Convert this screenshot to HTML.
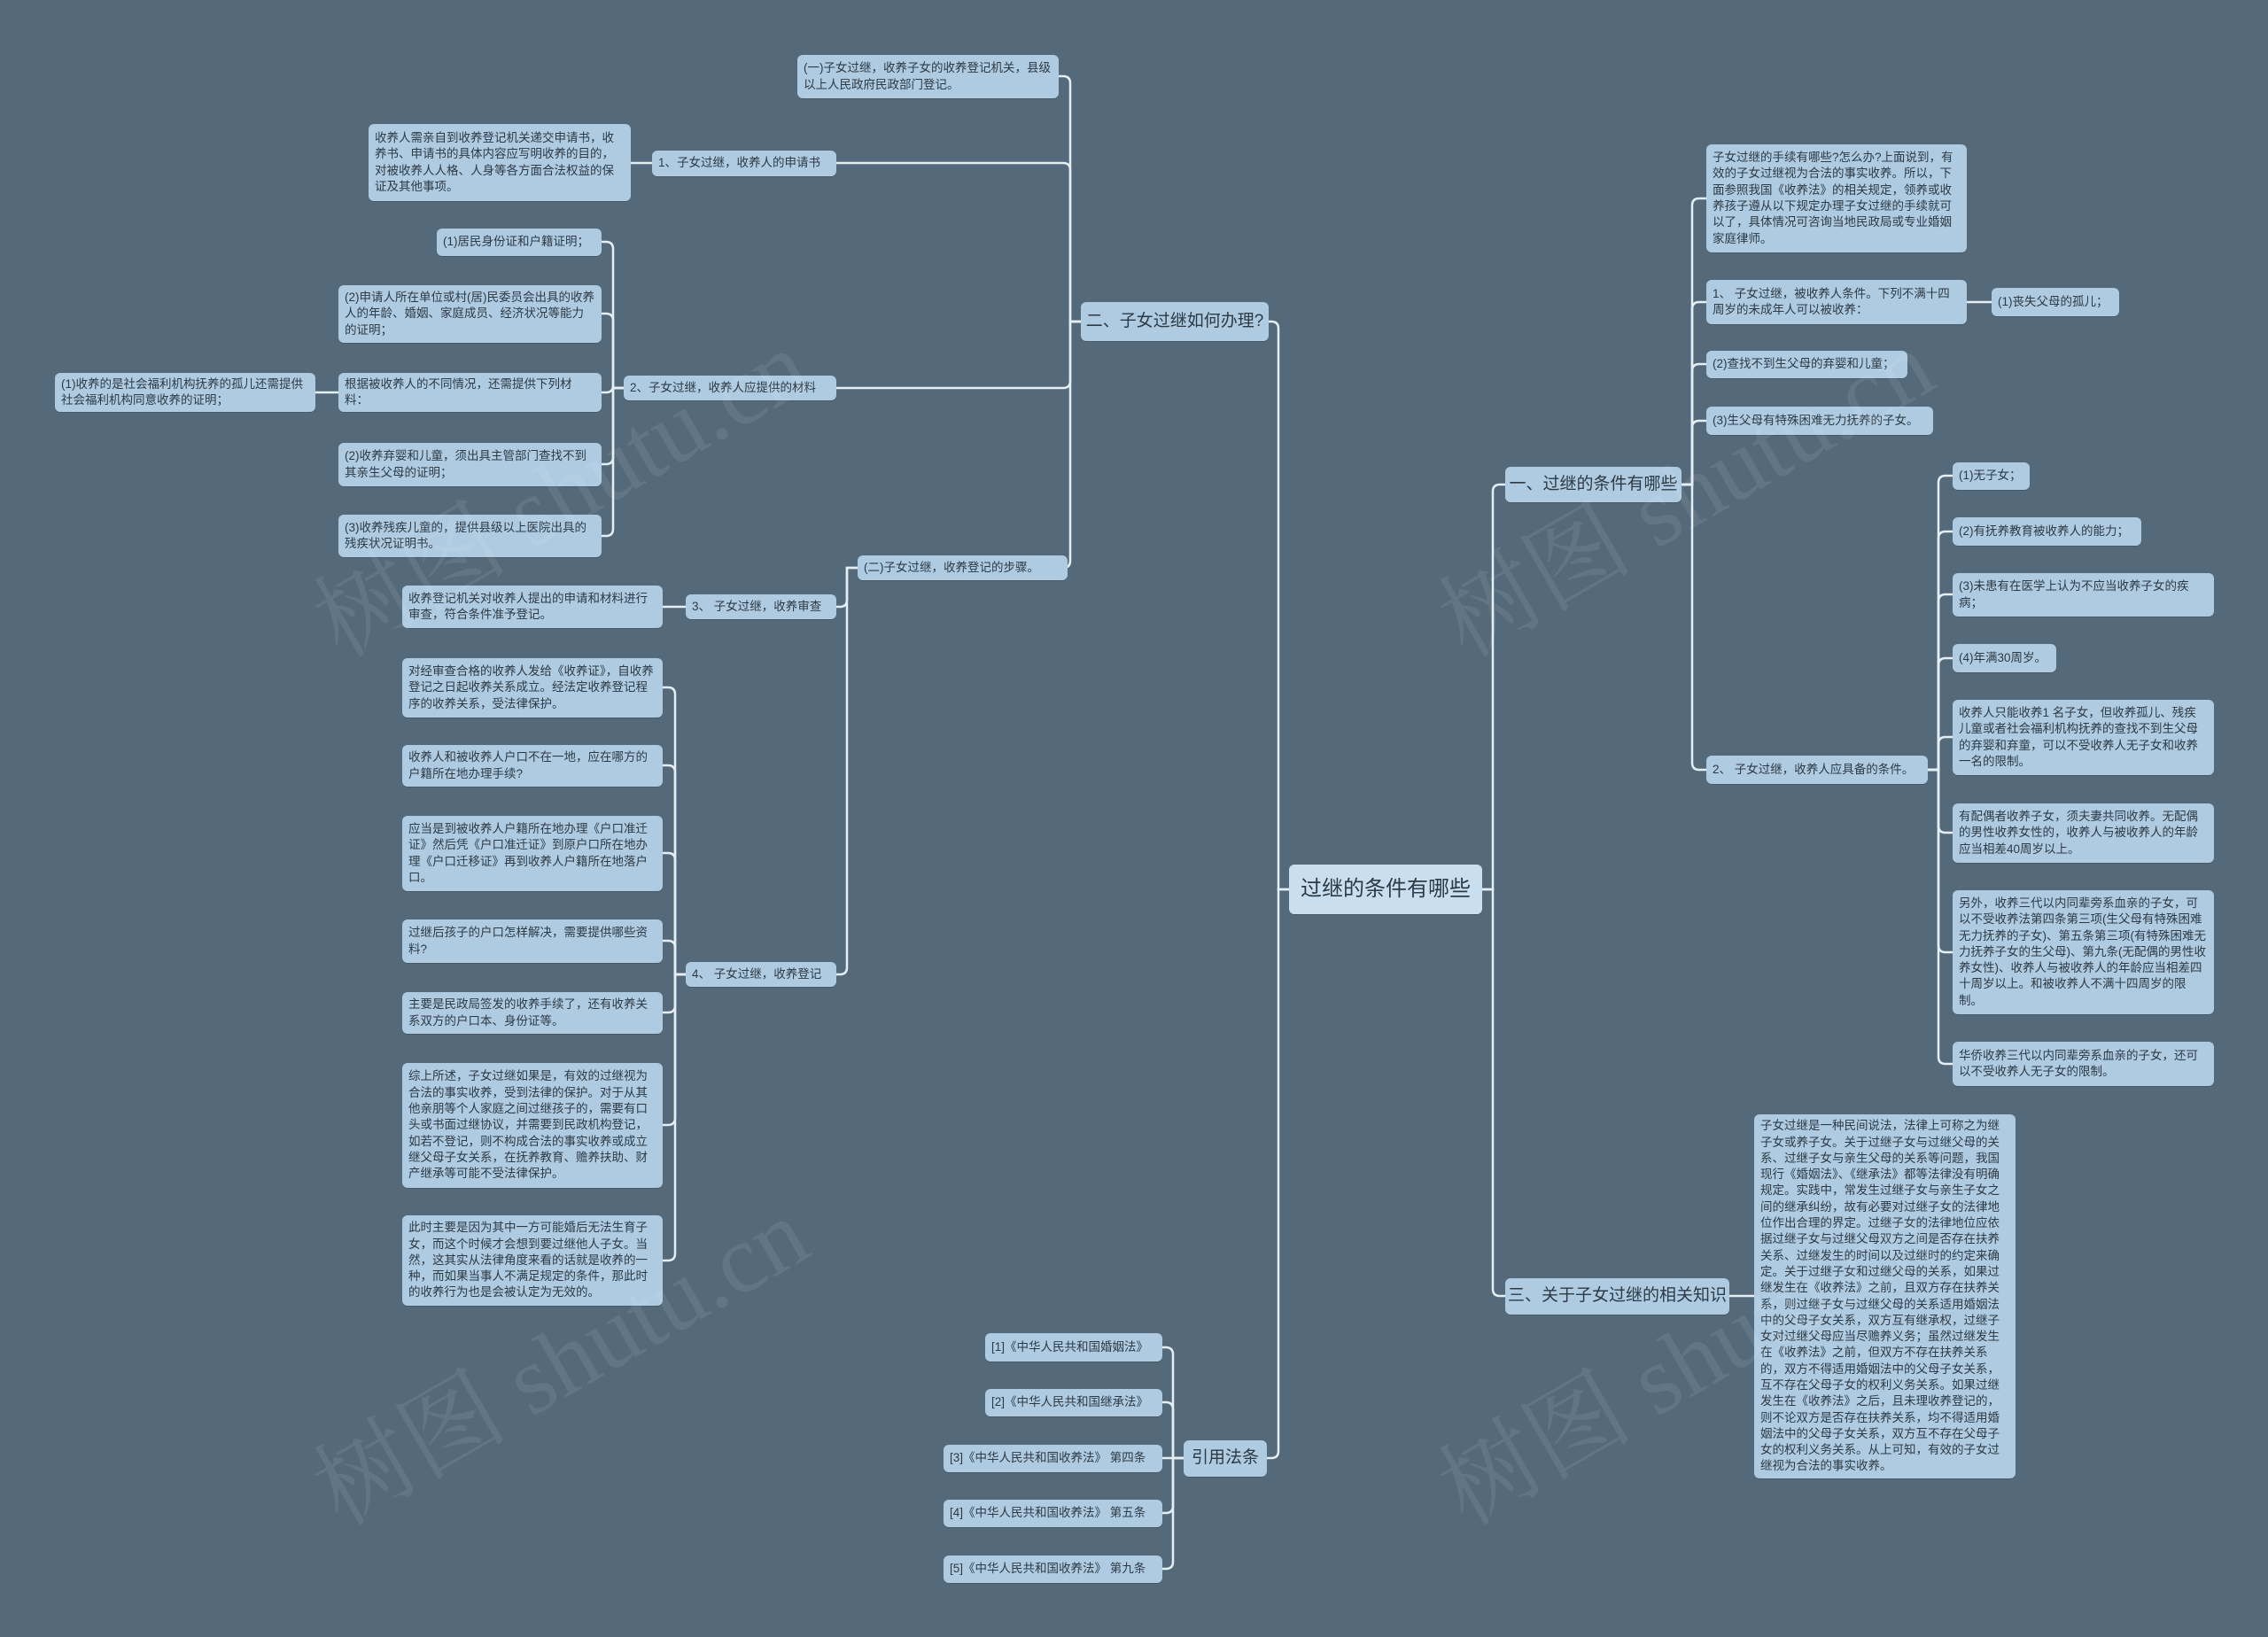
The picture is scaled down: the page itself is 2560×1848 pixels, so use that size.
<!DOCTYPE html>
<html><head><meta charset="utf-8">
<style>
html,body{margin:0;padding:0;}
body{width:2560px;height:1848px;background:#546a7a;position:relative;overflow:hidden;font-family:"Liberation Sans","Noto Sans CJK SC",sans-serif;}
.n{position:absolute;box-sizing:border-box;background:#aecbe2;border-radius:6px;color:#2d3a44;font-size:13.5px;line-height:18.3px;padding:4px 7px;display:flex;align-items:center;box-shadow:0 1px 0 rgba(0,0,0,0.15);word-break:break-all;}
.s{white-space:nowrap;overflow:hidden;}
.m{font-size:19px;justify-content:center;padding:0 4px;white-space:nowrap;}
.r{font-size:24px;justify-content:center;white-space:nowrap;background:#c9dff0;}
.wm{position:absolute;color:rgba(255,255,255,0.08);font-size:110px;font-family:"Liberation Serif","Noto Serif CJK SC",serif;transform:rotate(-30deg);white-space:nowrap;pointer-events:none;}
svg{position:absolute;left:0;top:0;}
</style></head><body>
<svg id="s" width="2560" height="1848"></svg>

<div class="n r" style="left:1455px;top:976px;width:218px;height:56px">过继的条件有哪些</div>

<div class="n m" style="left:1220px;top:341px;width:212px;height:44px">二、子女过继如何办理?</div>
<div class="n" style="left:900px;top:62px;width:295px;height:49px">(一)子女过继，收养子女的收养登记机关，县级以上人民政府民政部门登记。</div>
<div class="n s" style="left:736px;top:170px;width:208px;height:29px">1、子女过继，收养人的申请书</div>
<div class="n" style="left:416px;top:140px;width:296px;height:87px">收养人需亲自到收养登记机关递交申请书，收养书、申请书的具体内容应写明收养的目的，对被收养人人格、人身等各方面合法权益的保证及其他事项。</div>
<div class="n s" style="left:704px;top:424px;width:240px;height:28px">2、子女过继，收养人应提供的材料</div>
<div class="n s" style="left:493px;top:258px;width:186px;height:31px">(1)居民身份证和户籍证明；</div>
<div class="n" style="left:382px;top:322px;width:297px;height:65px">(2)申请人所在单位或村(居)民委员会出具的收养人的年龄、婚姻、家庭成员、经济状况等能力的证明；</div>
<div class="n" style="left:382px;top:421px;width:297px;height:44px">根据被收养人的不同情况，还需提供下列材料：</div>
<div class="n" style="left:62px;top:421px;width:294px;height:44px">(1)收养的是社会福利机构抚养的孤儿还需提供社会福利机构同意收养的证明；</div>
<div class="n" style="left:382px;top:500px;width:297px;height:49px">(2)收养弃婴和儿童，须出具主管部门查找不到其亲生父母的证明；</div>
<div class="n" style="left:382px;top:581px;width:297px;height:48px">(3)收养残疾儿童的，提供县级以上医院出具的残疾状况证明书。</div>
<div class="n s" style="left:968px;top:627px;width:237px;height:28px">(二)子女过继，收养登记的步骤。</div>
<div class="n s" style="left:774px;top:671px;width:170px;height:28px">3、 子女过继，收养审查</div>
<div class="n" style="left:454px;top:661px;width:294px;height:48px">收养登记机关对收养人提出的申请和材料进行审查，符合条件准予登记。</div>
<div class="n s" style="left:774px;top:1086px;width:170px;height:28px">4、 子女过继，收养登记</div>
<div class="n" style="left:454px;top:743px;width:294px;height:67px">对经审查合格的收养人发给《收养证》，自收养登记之日起收养关系成立。经法定收养登记程序的收养关系，受法律保护。</div>
<div class="n" style="left:454px;top:841px;width:294px;height:47px">收养人和被收养人户口不在一地，应在哪方的户籍所在地办理手续?</div>
<div class="n" style="left:454px;top:921px;width:294px;height:85px">应当是到被收养人户籍所在地办理《户口准迁证》然后凭《户口准迁证》到原户口所在地办理《户口迁移证》再到收养人户籍所在地落户口。</div>
<div class="n" style="left:454px;top:1038px;width:294px;height:49px">过继后孩子的户口怎样解决，需要提供哪些资料?</div>
<div class="n" style="left:454px;top:1120px;width:294px;height:47px">主要是民政局签发的收养手续了，还有收养关系双方的户口本、身份证等。</div>
<div class="n" style="left:454px;top:1200px;width:294px;height:141px">综上所述，子女过继如果是，有效的过继视为合法的事实收养，受到法律的保护。对于从其他亲朋等个人家庭之间过继孩子的，需要有口头或书面过继协议，并需要到民政机构登记，如若不登记，则不构成合法的事实收养或成立继父母子女关系，在抚养教育、赡养扶助、财产继承等可能不受法律保护。</div>
<div class="n" style="left:454px;top:1372px;width:294px;height:102px">此时主要是因为其中一方可能婚后无法生育子女，而这个时候才会想到要过继他人子女。当然，这其实从法律角度来看的话就是收养的一种，而如果当事人不满足规定的条件，那此时的收养行为也是会被认定为无效的。</div>

<div class="n m" style="left:1336px;top:1626px;width:94px;height:41px">引用法条</div>
<div class="n s" style="left:1112px;top:1505px;width:200px;height:32px">[1]《中华人民共和国婚姻法》</div>
<div class="n s" style="left:1112px;top:1568px;width:200px;height:31px">[2]《中华人民共和国继承法》</div>
<div class="n s" style="left:1065px;top:1631px;width:247px;height:31px">[3]《中华人民共和国收养法》 第四条</div>
<div class="n s" style="left:1065px;top:1693px;width:247px;height:31px">[4]《中华人民共和国收养法》 第五条</div>
<div class="n s" style="left:1065px;top:1756px;width:247px;height:31px">[5]《中华人民共和国收养法》 第九条</div>

<div class="n m" style="left:1699px;top:527px;width:199px;height:40px">一、过继的条件有哪些</div>
<div class="n" style="left:1926px;top:163px;width:294px;height:122px">子女过继的手续有哪些?怎么办?上面说到，有效的子女过继视为合法的事实收养。所以，下面参照我国《收养法》的相关规定，领养或收养孩子遵从以下规定办理子女过继的手续就可以了，具体情况可咨询当地民政局或专业婚姻家庭律师。</div>
<div class="n" style="left:1926px;top:316px;width:294px;height:50px">1、 子女过继，被收养人条件。下列不满十四周岁的未成年人可以被收养：</div>
<div class="n s" style="left:2248px;top:325px;width:144px;height:32px">(1)丧失父母的孤儿；</div>
<div class="n s" style="left:1926px;top:396px;width:227px;height:31px">(2)查找不到生父母的弃婴和儿童；</div>
<div class="n s" style="left:1926px;top:459px;width:256px;height:32px">(3)生父母有特殊困难无力抚养的子女。</div>
<div class="n s" style="left:1926px;top:853px;width:250px;height:32px">2、 子女过继，收养人应具备的条件。</div>
<div class="n s" style="left:2204px;top:522px;width:87px;height:31px">(1)无子女；</div>
<div class="n s" style="left:2204px;top:584px;width:213px;height:32px">(2)有抚养教育被收养人的能力；</div>
<div class="n" style="left:2204px;top:647px;width:295px;height:49px">(3)未患有在医学上认为不应当收养子女的疾病；</div>
<div class="n s" style="left:2204px;top:727px;width:117px;height:32px">(4)年满30周岁。</div>
<div class="n" style="left:2204px;top:790px;width:295px;height:85px">收养人只能收养1 名子女，但收养孤儿、残疾儿童或者社会福利机构抚养的查找不到生父母的弃婴和弃童，可以不受收养人无子女和收养一名的限制。</div>
<div class="n" style="left:2204px;top:907px;width:295px;height:67px">有配偶者收养子女，须夫妻共同收养。无配偶的男性收养女性的，收养人与被收养人的年龄应当相差40周岁以上。</div>
<div class="n" style="left:2204px;top:1005px;width:295px;height:140px">另外，收养三代以内同辈旁系血亲的子女，可以不受收养法第四条第三项(生父母有特殊困难无力抚养的子女)、第五条第三项(有特殊困难无力抚养子女的生父母)、第九条(无配偶的男性收养女性)、收养人与被收养人的年龄应当相差四十周岁以上。和被收养人不满十四周岁的限制。</div>
<div class="n" style="left:2204px;top:1176px;width:295px;height:50px">华侨收养三代以内同辈旁系血亲的子女，还可以不受收养人无子女的限制。</div>
<div class="n m" style="left:1699px;top:1443px;width:253px;height:41px">三、关于子女过继的相关知识</div>
<div class="n" style="left:1980px;top:1258px;width:295px;height:411px">子女过继是一种民间说法，法律上可称之为继子女或养子女。关于过继子女与过继父母的关系、过继子女与亲生父母的关系等问题，我国现行《婚姻法》、《继承法》都等法律没有明确规定。实践中，常发生过继子女与亲生子女之间的继承纠纷，故有必要对过继子女的法律地位作出合理的界定。过继子女的法律地位应依据过继子女与过继父母双方之间是否存在扶养关系、过继发生的时间以及过继时的约定来确定。关于过继子女和过继父母的关系，如果过继发生在《收养法》之前，且双方存在扶养关系，则过继子女与过继父母的关系适用婚姻法中的父母子女关系，双方互有继承权，过继子女对过继父母应当尽赡养义务；虽然过继发生在《收养法》之前，但双方不存在扶养关系的，双方不得适用婚姻法中的父母子女关系，互不存在父母子女的权利义务关系。如果过继发生在《收养法》之后，且未理收养登记的，则不论双方是否存在扶养关系，均不得适用婚姻法中的父母子女关系，双方互不存在父母子女的权利义务关系。从上可知，有效的子女过继视为合法的事实收养。</div>

<div class="wm" style="left:320px;top:470px">树图 shutu.cn</div>
<div class="wm" style="left:320px;top:1450px">树图 shutu.cn</div>
<div class="wm" style="left:1590px;top:470px">树图 shutu.cn</div>
<div class="wm" style="left:1590px;top:1450px">树图 shutu.cn</div>

<script>
var P=[];
function L(px,py,cs,side){
  var bus=px+side*12, r=8;
  cs.forEach(function(c){
    var cx=c[0],cy=c[1],d;
    var dy=cy-py;
    if(Math.abs(dy)<2){d="M"+px+","+py+"H"+cx;}
    else{var s=dy>0?1:-1;
      d="M"+px+","+py+"H"+bus+"V"+(cy-s*r)+"Q"+bus+","+cy+" "+(bus+side*r)+","+cy+"H"+cx;}
    P.push(d);
  });
}
L(1455,1004,[[1432,363],[1430,1646]],-1);
L(1220,363,[[1195,86],[944,184],[944,438],[1205,641]],-1);
L(736,184,[[712,183]],-1);
L(704,438,[[679,273],[679,354],[679,443],[679,524],[679,605]],-1);
L(382,443,[[356,443]],-1);
L(968,641,[[944,685],[944,1100]],-1);
L(774,685,[[748,685]],-1);
L(774,1100,[[748,776],[748,864],[748,963],[748,1062],[748,1143],[748,1270],[748,1423]],-1);
L(1336,1646,[[1312,1521],[1312,1583],[1312,1646],[1312,1708],[1312,1771]],-1);
L(1673,1004,[[1699,547],[1699,1463]],1);
L(1898,547,[[1926,224],[1926,341],[1926,411],[1926,475],[1926,869]],1);
L(2220,341,[[2248,341]],1);
L(2176,869,[[2204,537],[2204,600],[2204,671],[2204,743],[2204,832],[2204,940],[2204,1075],[2204,1201]],1);
L(1952,1463,[[1980,1463]],1);
document.getElementById('s').innerHTML=P.map(function(d){return '<path d="'+d+'" fill="none" stroke="#e4eef5" stroke-width="2.5"/>';}).join('');
</script>
</body></html>
